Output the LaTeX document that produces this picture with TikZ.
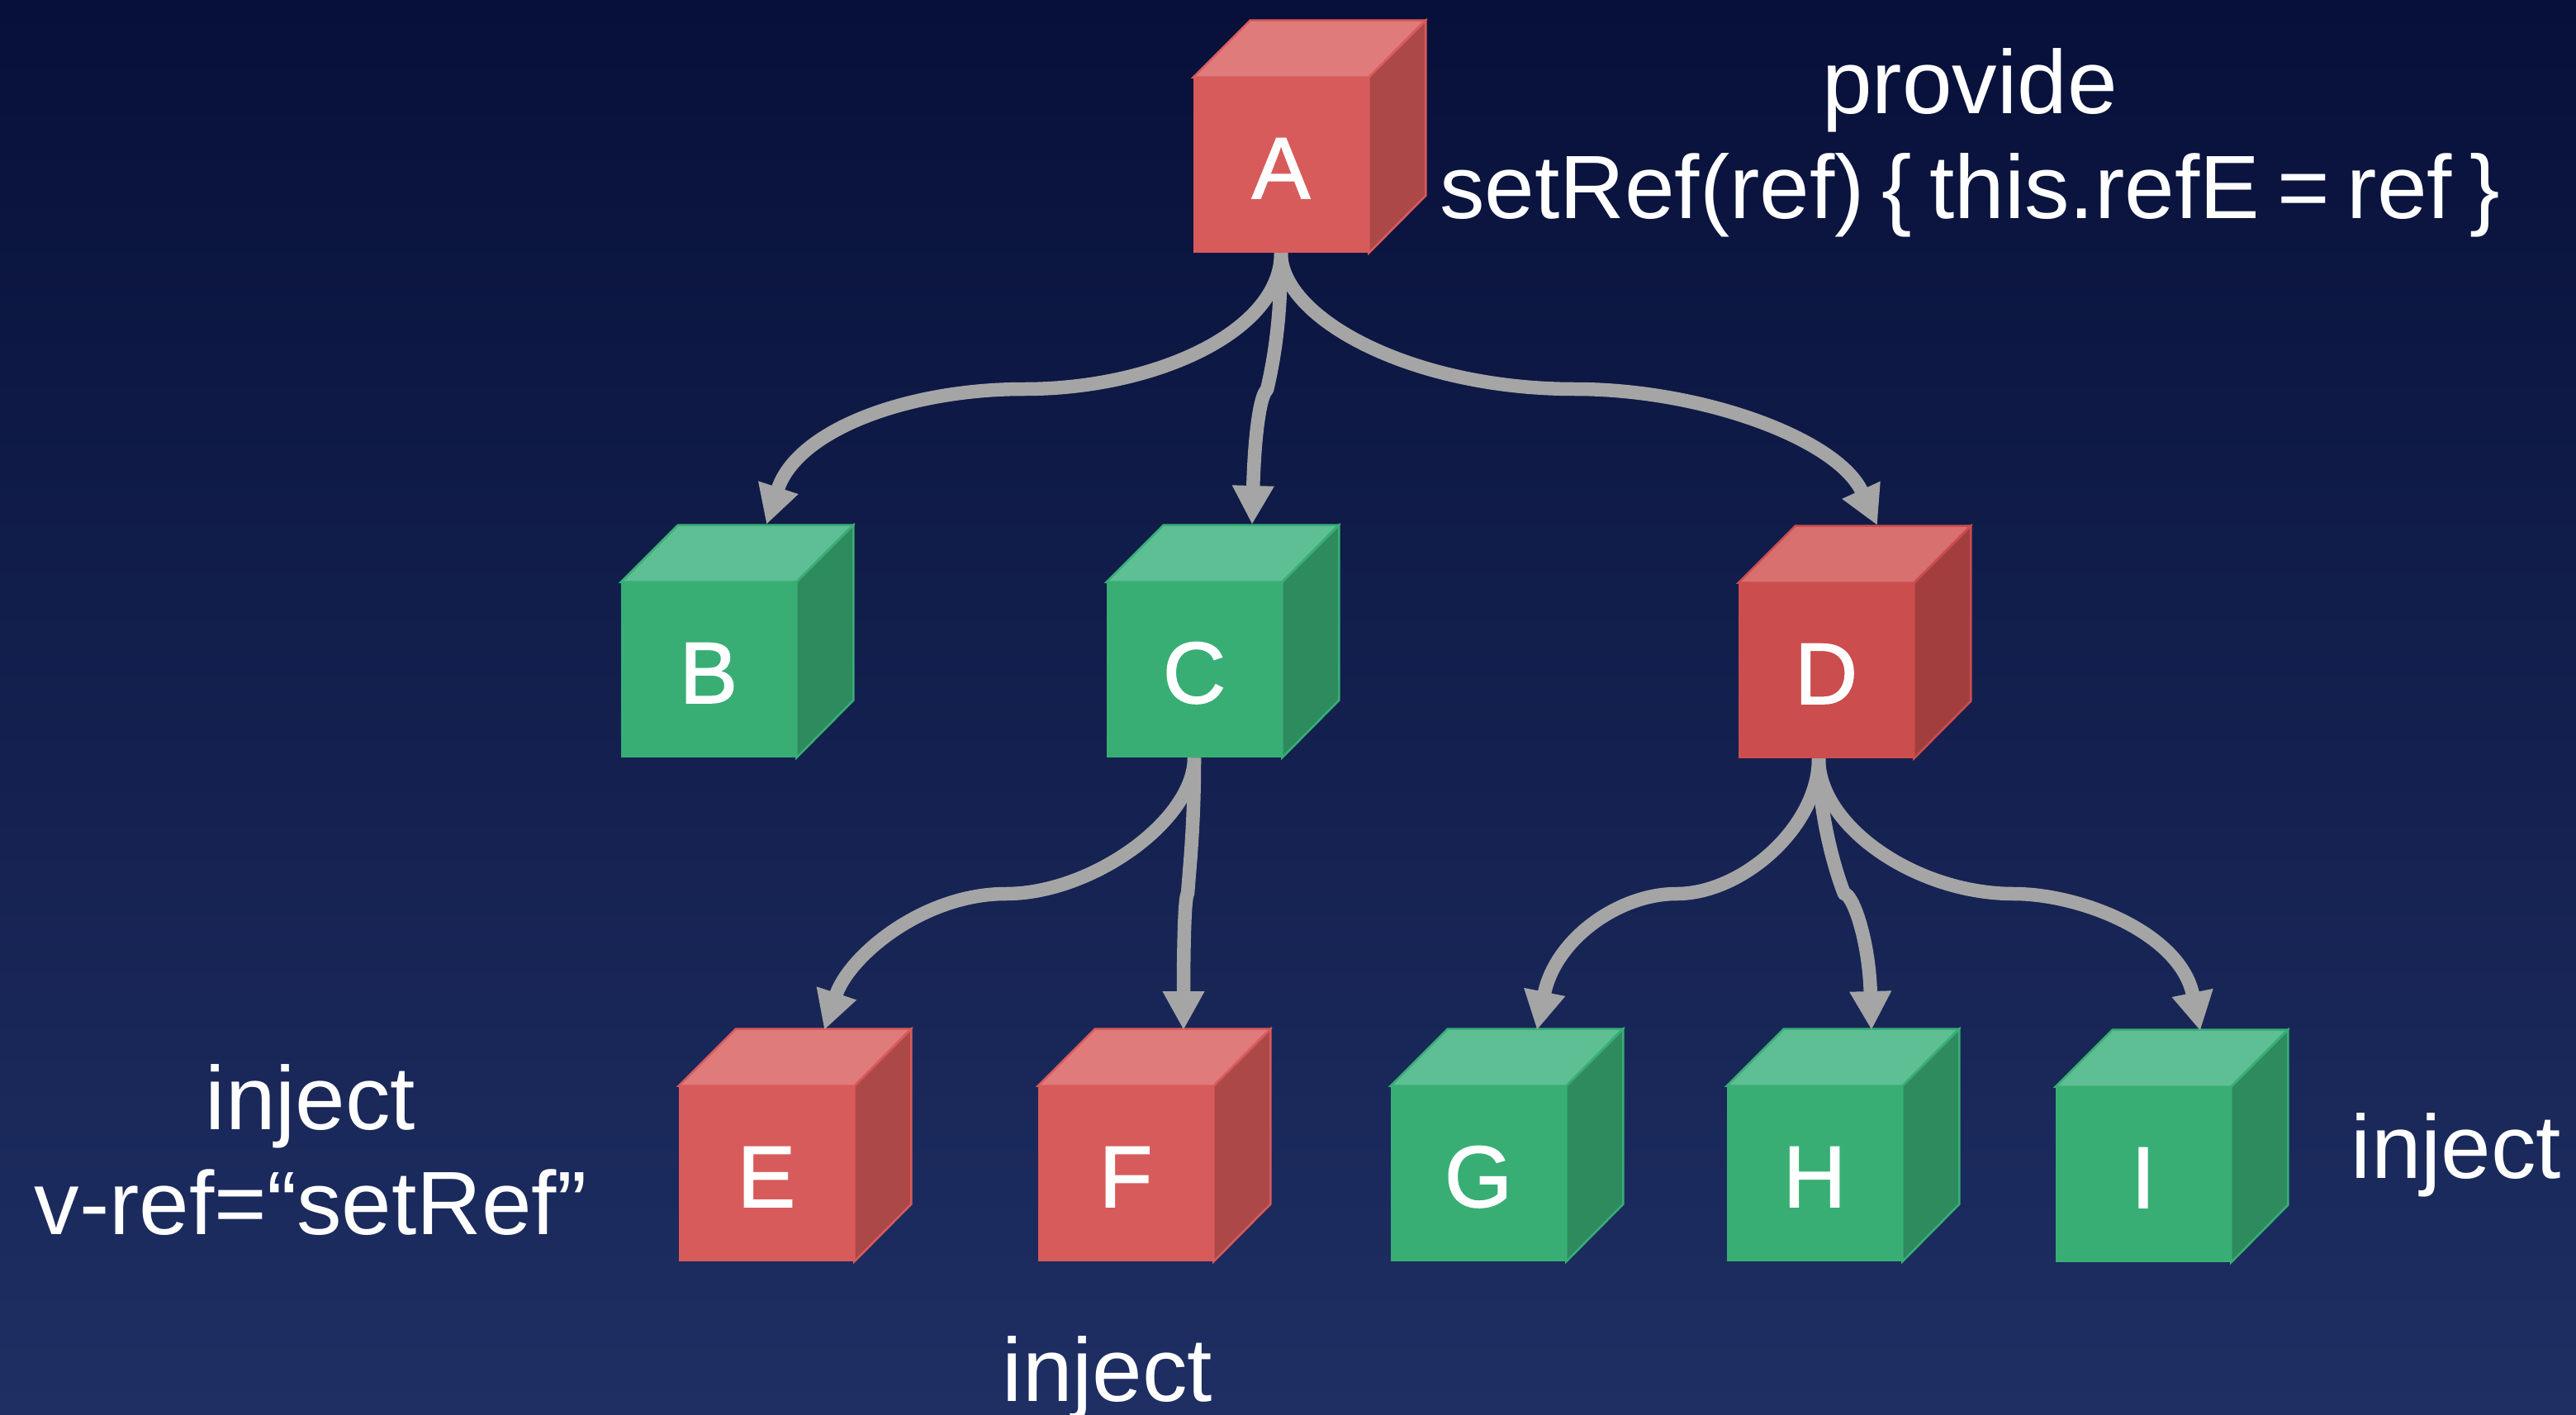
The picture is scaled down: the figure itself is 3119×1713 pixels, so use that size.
\documentclass[tikz,border=0pt]{standalone}
\usepackage{fontspec}
\setmainfont{Liberation Sans}
\newfontfamily\cubefont[FakeBold=1.5]{Liberation Sans}
\newfontfamily\tightfont[WordSpace=0.7]{Liberation Sans}
\usetikzlibrary{arrows.meta}

\definecolor{skytop}{HTML}{071039}
\definecolor{skybottom}{HTML}{1F2F63}
\definecolor{paleredfront}{HTML}{D85B5B}
\definecolor{paleredtop}{HTML}{E07B7B}
\definecolor{paleredside}{HTML}{AC4848}
\definecolor{deepredfront}{HTML}{CB4D4D}
\definecolor{deepredtop}{HTML}{D87070}
\definecolor{deepredside}{HTML}{A23E3E}
\definecolor{leaffront}{HTML}{38AE75}
\definecolor{leaftop}{HTML}{5EBE94}
\definecolor{leafside}{HTML}{2E8B5E}
\definecolor{linkgray}{HTML}{A5A5A5}

\tikzset{
    cube/.style={minimum size=4.24cm, inner sep=0pt, text=white, text height=1.6cm, text depth=0pt, font=\cubefont\fontsize{60}{72}\selectfont},
    label/.style={align=center, text=white, font=\fontsize{62}{72}\selectfont},
    link/.style={draw=linkgray, line width=0.33cm, line join=round, -{Triangle[width=0.95cm,length=0.94cm]}}
}

% top and side faces behind a front node
\newcommand{\cubefaces}[2]{
    \filldraw[draw=#2front, fill=#2top, line width=0.05cm] (#1.north west) -- ++(69,-69) -- ++(212,0) -- (#1.north east) -- cycle;
    \filldraw[draw=#2front, fill=#2side, line width=0.05cm] (#1.north east) -- ++(69,-69) -- ++(0,212) -- (#1.south east) -- cycle;
}

\begin{document}
\begin{tikzpicture}[x=0.02cm, y=-0.02cm]

\shade[top color=skytop, bottom color=skybottom] (0,0) rectangle (3119,1713);
\useasboundingbox (0,0) rectangle (3119,1713);

% Root
\node (A) [cube, fill=paleredfront] at (1551,200) {A};
\cubefaces{A}{palered}

% Second row
\node (B) [cube, fill=leaffront] at (858,811) {B};
\cubefaces{B}{leaf}
\node (C) [cube, fill=leaffront] at (1446,811) {C};
\cubefaces{C}{leaf}
\node (D) [cube, fill=deepredfront] at (2211,812) {D};
\cubefaces{D}{deepred}

% Third row
\node (E) [cube, fill=paleredfront] at (928,1421) {E};
\cubefaces{E}{palered}
\node (F) [cube, fill=paleredfront] at (1363,1421) {F};
\cubefaces{F}{palered}
\node (G) [cube, fill=leaffront] at (1790,1421) {G};
\cubefaces{G}{leaf}
\node (H) [cube, fill=leaffront] at (2197,1421) {H};
\cubefaces{H}{leaf}
\node (I) [cube, fill=leaffront] at (2595,1422) {I};
\cubefaces{I}{leaf}

% Labels
\node (provide) [label] at (2385,173) {provide\\\tightfont setRef(ref) \{ this.refE = ref \}};
\node (injectE) [label] at (376,1392) {inject\\v-ref=“setRef”};
\node (injectF) [label] at (1341,1668) {inject};
\node (injectI) [label] at (2974,1398) {inject};

% Arrow ends on the top faces
\coordinate (tipB) at (928,635);
\coordinate (tipC) at (1516,635);
\coordinate (tipD) at (2273,636);
\coordinate (tipE) at (998,1247);
\coordinate (tipF) at (1433,1247);
\coordinate (tipG) at (1861,1247);
\coordinate (tipH) at (2266,1247);
\coordinate (tipI) at (2664,1248);

% Joints halfway down
\coordinate (midB) at (1240,471);
\coordinate (midC) at (1534,472);
\coordinate (midD) at (1907,471);
\coordinate (midE) at (1218,1082);
\coordinate (midF) at (1438,1082);
\coordinate (midG) at (2030,1082);
\coordinate (midH) at (2233,1082);
\coordinate (midI) at (2438,1082);

% D lets its arrows go left of centre
\coordinate (outD) at ([xshift=-0.18cm]D.south);

% From A
\draw[link] (A.south) .. controls +(0,94) and +(160,0) .. (midB) .. controls +(-140,0) and +(37,-115) .. (tipB);
\draw[link] (A.south) .. controls +(0,84) and +(8,-35) .. (midC) .. controls +(-8,5) and +(3,-110) .. (tipC);
\draw[link] (A.south) .. controls +(0,78) and +(-200,0) .. (midD) .. controls +(153,0) and +(-48,-105) .. (tipD);

% From C
\draw[link] (C.south) .. controls +(0,75) and +(105,0) .. (midE) .. controls +(-100,0) and +(30,-90) .. (tipE);
\draw[link] (C.south) .. controls +(0,80) and +(3,-40) .. (midF) .. controls +(-4,2) and +(0,-90) .. (tipF);

% From D
\draw[link] (outD) .. controls +(0,82) and +(80,0) .. (midG) .. controls +(-70,0) and +(22,-110) .. (tipG);
\draw[link] (outD) .. controls +(0,70) and +(-10,-25) .. (midH) .. controls +(10,0) and +(-3,-110) .. (tipH);
\draw[link] (outD) .. controls +(0,82) and +(-118,0) .. (midI) .. controls +(82,0) and +(-24,-118) .. (tipI);

\end{tikzpicture}
\end{document}
